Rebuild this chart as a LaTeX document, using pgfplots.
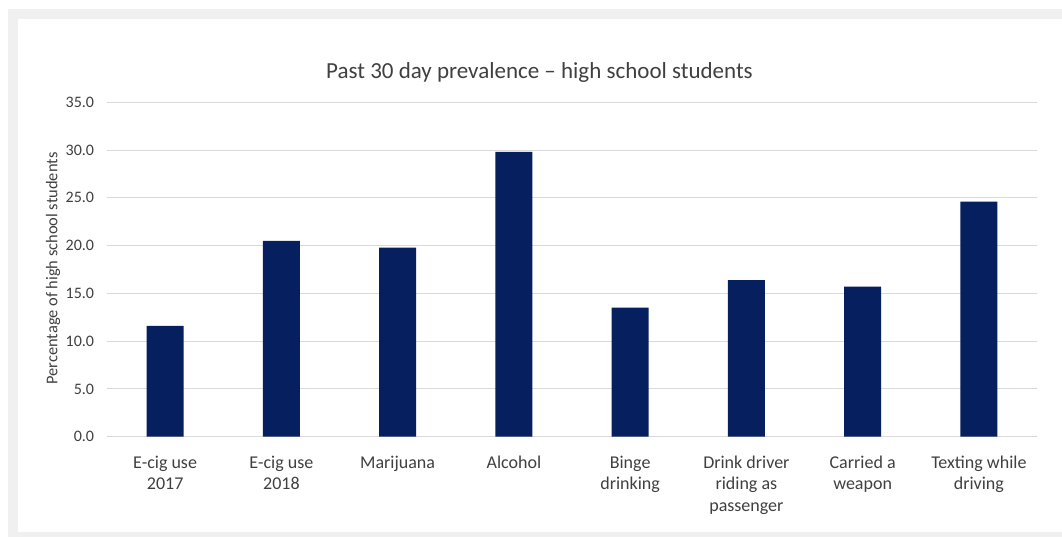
\documentclass[border=0pt]{standalone}
\usepackage{fontspec}
\setmainfont{Carlito}
\usepackage{pgfplots}
\pgfplotsset{compat=1.18}

\definecolor{barnavy}{RGB}{6,31,94}
\definecolor{gridgray}{RGB}{217,217,217}
\definecolor{labelgray}{RGB}{64,64,64}
\definecolor{framegray}{RGB}{240,240,240}

\begin{document}
\begin{tikzpicture}[x=1bp,y=1bp]
  % page and chart frame
  \fill[white] (0,0) rectangle (1062,537);
  \fill[framegray] (8,0) rectangle (1062,528);
  \fill[white] (18,5) rectangle (1062,518);

  \begin{axis}[
    at={(107bp,100.3bp)}, anchor=south west,
    scale only axis,
    width=930bp, height=334.4bp,
    xmin=-0.5, xmax=7.5,
    ymin=0, ymax=35,
    ytick={0,5,...,35},
    xtick={0,...,7},
    xticklabels={\strut E-cig use\\2017, \strut E-cig use\\2018,
                 \strut Marijuana, \strut Alcohol,
                 \strut Binge\\drinking, \strut Drink driver\\riding as\\passenger,
                 \strut Carried a\\weapon, \strut Texting while\\driving},
    axis x line=bottom, axis y line=left,
    axis line style={draw=none},
    major tick length=0pt,
    ymajorgrids,
    grid style={color=gridgray, line width=1bp},
    yticklabel style={anchor=east, inner sep=0pt, xshift=-12.7bp,
                      font=\fontsize{16bp}{19bp}\selectfont, text=labelgray},
    xticklabel style={anchor=north, inner sep=0pt, yshift=-16.25bp, align=center,
                      font=\fontsize{18bp}{21.5bp}\selectfont, text=labelgray},
    /pgf/number format/.cd, fixed, fixed zerofill, precision=1,
      assume math mode=true,
  ]
    \addplot[ybar, bar width=37bp, fill=barnavy, draw=none]
      coordinates {(0,11.6) (1,20.5) (2,19.8) (3,29.8)
                   (4,13.5) (5,16.4) (6,15.7) (7,24.6)};
  \end{axis}

  % chart title and vertical axis title
  \node[anchor=base, inner sep=0pt, text=labelgray,
        font=\fontsize{23bp}{27bp}\selectfont] at (539.5,458)
        {Past 30 day prevalence – high school students};
  \node[anchor=base, rotate=90, inner sep=0pt, text=labelgray,
        font=\fontsize{16.4bp}{19bp}\selectfont] at (57.3,268.5)
        {Percentage of high school students};
\end{tikzpicture}
\end{document}
